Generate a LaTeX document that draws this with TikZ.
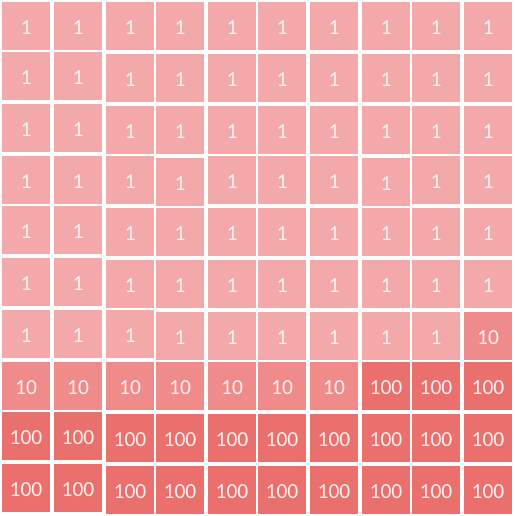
\documentclass[tikz,border=0pt]{standalone}
\usepackage{fontspec}
\setmainfont{Carlito}
\definecolor{c1}{RGB}{243,169,169}
\definecolor{c10}{RGB}{239,139,139}
\definecolor{c100}{RGB}{234,112,110}
\definecolor{txt}{RGB}{251,240,240}
\tikzset{cell/.style={minimum width=48pt, minimum height=48pt, inner sep=0pt, outer sep=0pt, anchor=north west, text=txt, font=\fontsize{21.5}{22}\selectfont, text height=16.5pt, text depth=0pt}}
\begin{document}
\begin{tikzpicture}[x=1pt,y=-1pt]
\useasboundingbox (0,0) rectangle (514,516);
\fill[white] (0,0) rectangle (514,516);
\foreach \c/\x/\ys in {
 0/2/{2,52,104,156,206,258,310,362,412,464},
 1/54/{2,52,104,156,206,258,310,362,412,464},
 2/106/{2,54,106,156,208,260,310,362,414,466},
 3/156/{2,54,106,158,208,260,312,362,414,466},
 4/208/{2,54,106,156,208,260,312,362,414,466},
 5/258/{2,54,106,156,208,260,312,362,414,466},
 6/310/{2,54,106,156,208,260,312,362,414,466},
 7/362/{2,54,106,158,208,260,312,362,414,466},
 8/412/{2,54,106,156,208,260,312,362,414,466},
 9/464/{2,54,106,156,208,260,312,362,414,466}}{
  \foreach \y [count=\r from 0] in \ys {
    \pgfmathtruncatemacro\v{(\r<6) ? 1 : ((\r==6) ? ((\c<9) ? 1 : 10) : ((\r==7) ? ((\c<7) ? 10 : 100) : 100))}
    \node[cell, fill=c\v] (n-\r-\c) at (\x,\y) {\v};
  }
}
\end{tikzpicture}
\end{document}
